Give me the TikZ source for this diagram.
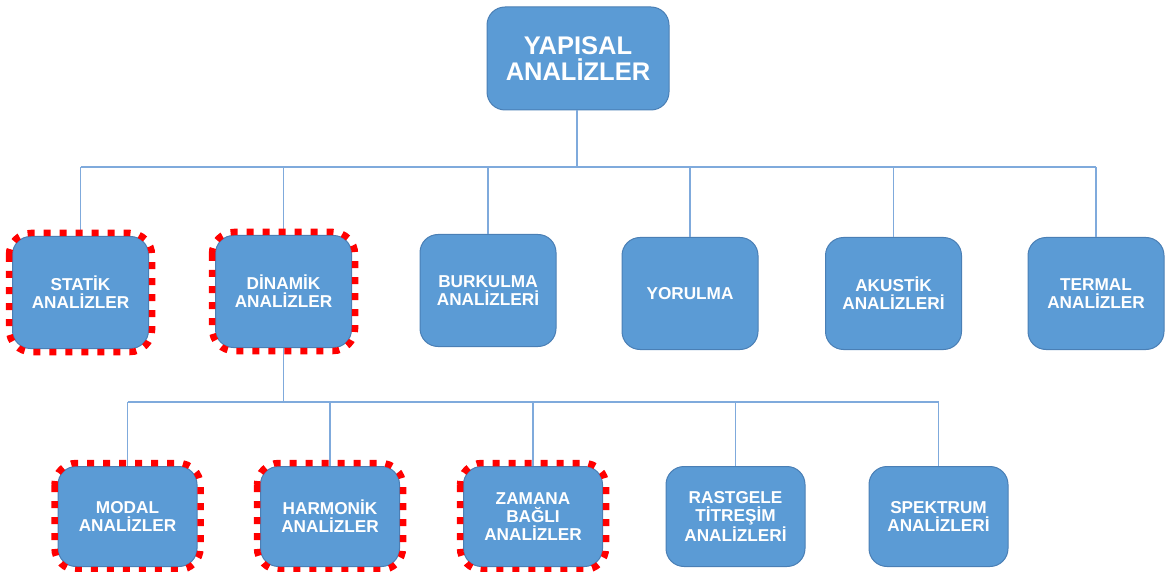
\documentclass[tikz,border=0pt]{standalone}
\usepackage{fontspec}
\newfontfamily\boxfont{Liberation Sans}[BoldFont={Liberation Sans Bold}]
\definecolor{boxblue}{HTML}{5B9BD5}
\definecolor{boxedge}{HTML}{4A7FB5}
\definecolor{linecol}{HTML}{7FAADC}
\begin{document}
\begin{tikzpicture}[x=1pt,y=-1pt,
  box/.style={rectangle, rounded corners=18pt, fill=boxblue, draw=boxedge, line width=1pt,
    text=white, align=center, inner sep=0pt,
    font=\boxfont\bfseries\fontsize{17.2}{18}\selectfont},
  rowtwo/.style={box, minimum width=136pt, minimum height=112pt},
  rowthree/.style={box, minimum width=139pt, minimum height=100pt},
  topbox/.style={box, minimum width=182pt, minimum height=103pt,
    font=\boxfont\bfseries\fontsize{25.5}{26}\selectfont},
  conn/.style={draw=linecol, line width=1.3pt},
  reddot/.style={draw=red, line width=6.5pt, dash pattern=on 7pt off 9pt, rounded corners=22pt}
]
\useasboundingbox (0,0) rectangle (1165,572);

% top
\node[topbox] (top) at (578,58.5) {YAPISAL\\ANALİZLER};

% row 2
\node[rowtwo] (statik)  at (80.5,292.5)  {STATİK\\ANALİZLER};
\node[rowtwo] (dinamik) at (283.5,291.5) {DİNAMİK\\ANALİZLER};
\node[rowtwo] (burk)    at (488,290.5)   {BURKULMA\\ANALİZLERİ};
\node[rowtwo] (yor)     at (690,293.5)   {YORULMA};
\node[rowtwo] (akus)    at (893.5,293.5) {AKUSTİK\\ANALİZLERİ};
\node[rowtwo] (termal)  at (1096,293.5)  {TERMAL\\ANALİZLER};

% row 3
\node[rowthree] (modal) at (127.5,516.5) {MODAL\\ANALİZLER};
\node[rowthree] (harm)  at (330,516.5)   {HARMONİK\\ANALİZLER};
\node[rowthree] (zaman) at (533,516.5)   {ZAMANA\\BAĞLI\\ANALİZLER};
\node[rowthree] (rast)  at (735.5,516.5) {RASTGELE\\TİTREŞİM\\ANALİZLERİ};
\node[rowthree] (spek)  at (938.5,516.5) {SPEKTRUM\\ANALİZLERİ};

% junctions
\coordinate (j1) at (577,167);
\coordinate (j2) at (283.5,402);

% connectors level 1
\draw[conn] (top.south -| j1) -- (j1);
\draw[conn] (statik.north |- j1) -- (termal.north |- j1);
\foreach \n in {statik,dinamik,burk,yor,akus,termal}
  \draw[conn] (\n.north |- j1) -- (\n.north);

% connectors level 2
\draw[conn] (dinamik.south) -- (j2);
\draw[conn] (modal.north |- j2) -- (spek.north |- j2);
\foreach \n in {modal,harm,zaman,rast,spek}
  \draw[conn] (\n.north |- j2) -- (\n.north);

% red dotted highlights
\foreach \n in {statik,dinamik,modal,harm,zaman}
  \draw[reddot] ([shift={(-3pt,3pt)}]\n.north west) rectangle ([shift={(3pt,-3pt)}]\n.south east);
\end{tikzpicture}
\end{document}
